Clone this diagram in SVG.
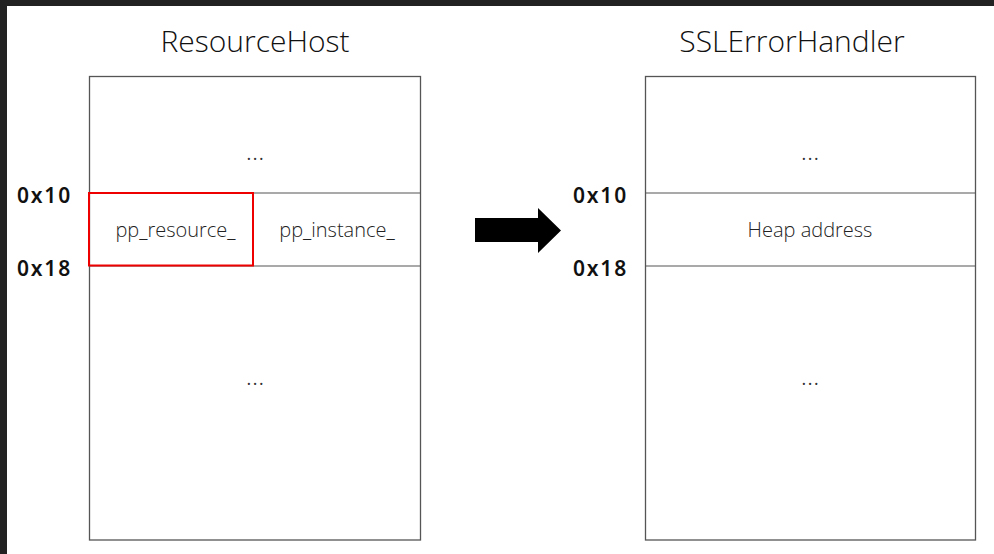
<svg xmlns="http://www.w3.org/2000/svg" width="994" height="554" viewBox="0 0 994 554">
  <style>
    .frame { fill: none; stroke: #555; stroke-width: 1.3; }
    .rule { stroke: #555; stroke-width: 1.2; }
    .title { font-family: "Open Sans", "Noto Sans", sans-serif; font-weight: 300; font-size: 30px; fill: #111; text-anchor: middle; }
    .cell { font-family: "Open Sans", "Noto Sans", sans-serif; font-weight: 300; font-size: 20px; fill: #222; text-anchor: middle; }
    .dots { font-family: "Open Sans", "Noto Sans", sans-serif; font-weight: 300; font-size: 26px; fill: #333; text-anchor: middle; }
    .off { font-family: "Noto Sans", "Open Sans", sans-serif; font-size: 21px; font-weight: 600; letter-spacing: 1.8px; fill: #111; }
  </style>
  <rect x="0" y="0" width="994" height="554" fill="#fff"/>
  <!-- window chrome edges -->
  <rect x="0" y="0" width="994" height="6" fill="#222"/>
  <rect x="0" y="0" width="7" height="554" fill="#222"/>

  <g id="resource-host">
    <text class="title" x="255" y="52">ResourceHost</text>
    <rect class="frame" x="89.5" y="76.5" width="331" height="463.5"/>
    <line class="rule" x1="89.5" y1="193" x2="420.5" y2="193"/>
    <line class="rule" x1="89.5" y1="266" x2="420.5" y2="266"/>
    <line class="rule" x1="253" y1="193" x2="253" y2="266"/>
    <text class="dots" x="255" y="160">…</text>
    <text class="dots" x="255" y="385">…</text>
    <text class="cell" x="175.5" y="237">pp_resource_</text>
    <text class="cell" x="337" y="237">pp_instance_</text>
    <rect x="89" y="193" width="164" height="72.5" fill="none" stroke="#e00" stroke-width="2"/>
    <text class="off" x="17" y="202.5">0x10</text>
    <text class="off" x="17" y="275.5">0x18</text>
  </g>

  <g id="connectors">
    <polygon points="475,218 538,218 538,208 561,230.5 538,253 538,242 475,242" fill="#000"/>
  </g>

  <g id="ssl-error-handler">
    <text class="title" x="792" y="52">SSLErrorHandler</text>
    <rect class="frame" x="645.5" y="76.5" width="330" height="463.5"/>
    <line class="rule" x1="645.5" y1="193" x2="975.5" y2="193"/>
    <line class="rule" x1="645.5" y1="266" x2="975.5" y2="266"/>
    <text class="dots" x="810" y="160">…</text>
    <text class="dots" x="810" y="385">…</text>
    <text class="cell" x="810" y="237">Heap address</text>
    <text class="off" x="573" y="202.5">0x10</text>
    <text class="off" x="573" y="275.5">0x18</text>
  </g>
</svg>
